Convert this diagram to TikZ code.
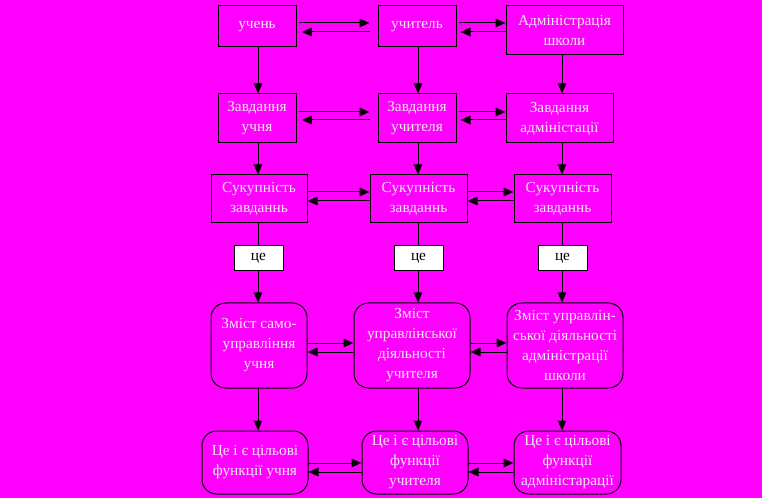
\documentclass[tikz,border=0pt]{standalone}
\usepackage{fontspec}
\setmainfont{Liberation Serif}
\usetikzlibrary{arrows.meta}
\definecolor{bgmag}{RGB}{255,0,255}
\definecolor{txtlight}{RGB}{235,235,235}
\begin{document}
\begin{tikzpicture}[x=0.75pt,y=-0.75pt,
  box/.style={draw=black,line width=0.75pt,fill=bgmag,text=txtlight,align=center,
    inner sep=1pt,font=\fontsize{11.5}{15}\selectfont},
  rbox/.style={box,rounded corners=11pt},
  cebox/.style={draw=black,line width=0.75pt,fill=white,text=black,
    font=\fontsize{11.5}{14}\selectfont,inner sep=0pt,
    minimum width=36.75pt,minimum height=18.75pt},
  arr/.style={line width=0.75pt,-{Triangle[length=7.5pt,width=6.5pt]}},
  ln/.style={line width=0.75pt}]
\fill[bgmag] (0,0) rectangle (762,498);
\useasboundingbox (0,0) rectangle (762,498);
% row 1
\node[box,minimum width=58.5pt,minimum height=30.75pt] (a1) at (257,26.5) {учень};
\node[box,minimum width=58.5pt,minimum height=30.75pt] (a2) at (417,26.5) {учитель};
\node[box,minimum width=87.75pt,minimum height=36.75pt] (a3) at (564.5,30.5) {Адміністрація\\школи};
% row 2
\node[box,minimum width=58.5pt,minimum height=36.75pt] (b1) at (257,118.5) {Завдання\\учня};
\node[box,minimum width=58.5pt,minimum height=36.75pt] (b2) at (417,118.5) {Завдання\\учителя};
\node[box,minimum width=80.25pt,minimum height=36.75pt] (b3) at (559.5,118.5) {Завдання\\адміністації};
% row 3
\node[box,minimum width=72pt,minimum height=36pt] (c1) at (259,199) {Сукупність\\завданнь};
\node[box,minimum width=72.75pt,minimum height=36pt] (c2) at (418.5,199) {Сукупність\\завданнь};
\node[box,minimum width=72.75pt,minimum height=36pt] (c3) at (562.5,199) {Сукупність\\завданнь};
% ce
\node[cebox] (d1) at (258.5,258.5) {це};
\node[cebox] (d2) at (418.5,258.5) {це};
\node[cebox] (d3) at (562.5,258.5) {це};
% row 4
\node[rbox,minimum width=72pt,minimum height=63.75pt] (e1) at (259,345.5) {Зміст само-\\управління\\учня};
\node[rbox,minimum width=87pt,minimum height=63.75pt] (e2) at (412,345.5) {Зміст\\управлінської\\діяльності\\учителя};
\node[rbox,minimum width=87pt,minimum height=63.75pt] (e3) at (565,345.5) {Зміст управлін-\\ської діяльності\\адміністрації\\школи};
% row 5
\node[rbox,minimum width=79.5pt,minimum height=47.25pt] (f1) at (255,462.5) {Це і є цільові\\функції учня};
\node[rbox,minimum width=79.5pt,minimum height=47.25pt] (f2) at (415,462.5) {Це і є цільові\\функції\\учителя};
\node[rbox,minimum width=80.25pt,minimum height=47.25pt] (f3) at (567.5,462.5) {Це і є цільові\\функції\\адміністарації};
% helper coordinates
\coordinate (x1) at (258,0);
\coordinate (x2) at (418,0);
\coordinate (x3) at (562,0);
\coordinate (r1t) at (0,23);  \coordinate (r1b) at (0,32);
\coordinate (r2t) at (0,112); \coordinate (r2b) at (0,120);
\coordinate (r3t) at (0,192); \coordinate (r3b) at (0,201);
\coordinate (r4t) at (0,343); \coordinate (r4b) at (0,352);
\coordinate (r5t) at (0,463); \coordinate (r5b) at (0,472);
% vertical
\foreach \i in {1,2,3}{
  \draw[arr] (x\i |- a\i.south) -- (x\i |- b\i.north);
  \draw[arr] (x\i |- b\i.south) -- (x\i |- c\i.north);
  \draw[ln]  (x\i |- c\i.south) -- (x\i |- d\i.north);
  \draw[arr] (x\i |- d\i.south) -- (x\i |- e\i.north);
  \draw[arr] (x\i |- e\i.south) -- (x\i |- f\i.north);
}
% horizontal pairs, top rows (gap before middle box)
\foreach \r/\n in {a/1,b/2}{
  \draw[arr,shorten <=2pt,shorten >=6pt] (\r1.east |- r\n t) -- (\r2.west |- r\n t);
  \draw[arr,shorten <=6pt,shorten >=4pt] (\r2.west |- r\n b) -- (\r1.east |- r\n b);
  \draw[arr,shorten <=2pt] (\r2.east |- r\n t) -- (\r3.west |- r\n t);
  \draw[arr,shorten >=3pt] (\r3.west |- r\n b) -- (\r2.east |- r\n b);
}
% horizontal pairs, lower rows
\foreach \r/\n in {c/3,e/4,f/5}{
  \draw[arr] (\r1.east |- r\n t) -- (\r2.west |- r\n t);
  \draw[arr] (\r2.west |- r\n b) -- (\r1.east |- r\n b);
  \draw[arr] (\r2.east |- r\n t) -- (\r3.west |- r\n t);
  \draw[arr] (\r3.west |- r\n b) -- (\r2.east |- r\n b);
}
\end{tikzpicture}
\end{document}
